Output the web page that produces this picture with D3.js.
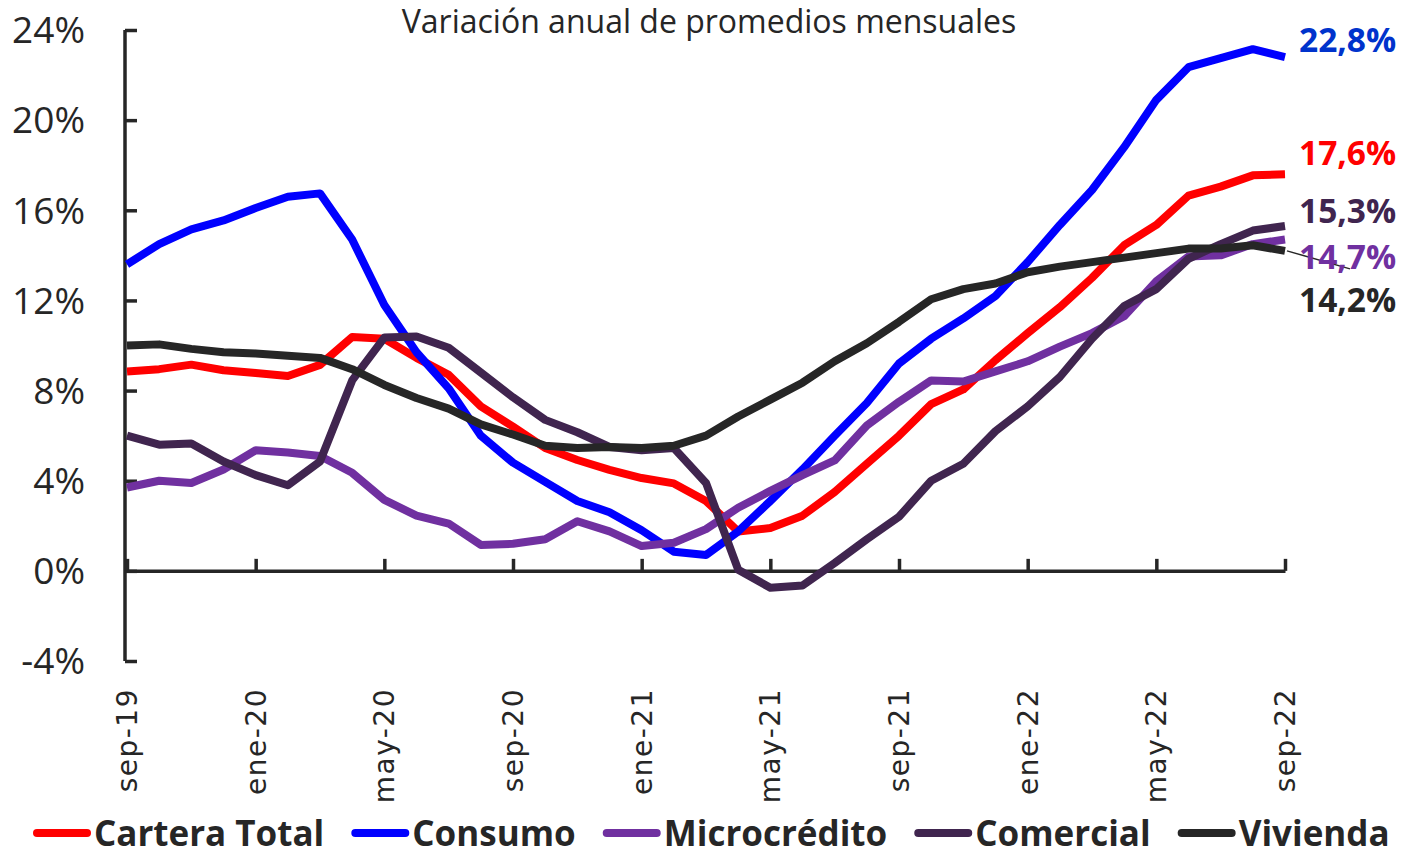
<!DOCTYPE html>
<html>
<head>
<meta charset="utf-8">
<script src="https://cdn.jsdelivr.net/npm/d3@7"></script>
<style>
  body { margin: 0; background: #fff; }
  svg { display: block; }
</style>
</head>
<body>
<svg id="chart" width="1406" height="855"></svg>
<script>
var TITLE = "Variación anual de promedios mensuales";

var monthNames = ["ene", "feb", "mar", "abr", "may", "jun", "jul", "ago", "sep", "oct", "nov", "dic"];
// sep-19 .. sep-22
var months = [];
for (var k = 0; k < 37; k++) {
    var m = (8 + k) % 12;
    var yr = 19 + Math.floor((8 + k) / 12);
    months.push(monthNames[m] + "-" + yr);
}

var cartera = [8.85, 8.95, 9.15, 8.9, 8.78, 8.65, 9.14, 10.38, 10.3, 9.45, 8.7, 7.3, 6.4, 5.45, 4.92, 4.48, 4.12, 3.88, 3.1, 1.75,
               1.9, 2.45, 3.5, 4.75, 6.0, 7.4, 8.05, 9.35, 10.55, 11.7, 13.0, 14.45, 15.35, 16.65, 17.05, 17.55, 17.6];
var consumo = [13.6, 14.5, 15.15, 15.55, 16.1, 16.6, 16.75, 14.7, 11.8, 9.7, 8.1, 6.0, 4.8, 3.95, 3.1, 2.6, 1.8, 0.85, 0.7, 1.75,
               3.1, 4.5, 6.0, 7.45, 9.2, 10.3, 11.2, 12.2, 13.7, 15.35, 16.9, 18.8, 20.9, 22.35, 22.75, 23.15, 22.8];
var microcredito = [3.7, 4.0, 3.9, 4.5, 5.35, 5.25, 5.1, 4.35, 3.15, 2.45, 2.1, 1.15, 1.2, 1.4, 2.2, 1.75, 1.1, 1.25, 1.85, 2.8,
               3.55, 4.25, 4.9, 6.45, 7.5, 8.45, 8.4, 8.85, 9.3, 9.95, 10.55, 11.3, 12.85, 13.95, 14.0, 14.5, 14.7];
var comercial = [6.0, 5.6, 5.65, 4.85, 4.25, 3.8, 4.85, 8.45, 10.35, 10.4, 9.9, 8.8, 7.7, 6.7, 6.15, 5.5, 5.35, 5.45, 3.9, 0.05,
               -0.75, -0.65, 0.35, 1.4, 2.4, 4.0, 4.75, 6.2, 7.3, 8.6, 10.3, 11.75, 12.5, 13.85, 14.5, 15.1, 15.3];
var vivienda = [10.0, 10.05, 9.85, 9.7, 9.65, 9.55, 9.45, 8.95, 8.25, 7.67, 7.2, 6.5, 6.05, 5.55, 5.45, 5.5, 5.45, 5.55, 6.0, 6.85,
               7.6, 8.35, 9.3, 10.1, 11.05, 12.05, 12.5, 12.75, 13.25, 13.5, 13.7, 13.9, 14.1, 14.3, 14.3, 14.45, 14.2];

var seriesNames = ["Cartera Total", "Consumo", "Microcrédito", "Comercial", "Vivienda"];
var seriesValues = [cartera, consumo, microcredito, comercial, vivienda];
var endLabels = ["17,6%", "22,8%", "14,7%", "15,3%", "14,2%"];
var yTicks = [-4, 0, 4, 8, 12, 16, 20, 24];

var COLORS = ["#ff0000", "#0000ff", "#7030a0", "#40254f", "#262626"];
var LABEL_COLORS = ["#ff0000", "#0033cc", "#7030a0", "#40254f", "#262626"];
var LABEL_DY = [-21, -17, 17, -15, 49];   // nudges so end labels don't overlap
var AXIS_COL = "#262626";
var FONT = "'Open Sans', 'Noto Sans', sans-serif";

var svg = d3.select("#chart");

var x = d3.scaleLinear().domain([0, months.length - 1]).range([127, 1285]);
var y = d3.scaleLinear().domain([-4, 24]).range([661, 30]);

// y axis
var yAxis = d3.axisRight(y).tickValues(yTicks).tickSize(12).tickFormat("");
var gy = svg.append("g")
    .attr("transform", "translate(" + 125 + ",0)")
    .call(yAxis);
gy.select(".domain").attr("d", "M0," + y(24) + "V" + y(-4)).attr("stroke", AXIS_COL).attr("stroke-width", 3.5);
gy.selectAll(".tick line").attr("stroke", AXIS_COL).attr("stroke-width", 3.5);

svg.append("g").selectAll("text")
    .data(yTicks)
    .enter()
    .append("text")
    .attr("x", 85)
    .attr("y", function(d) { return y(d); })
    .attr("dy", "0.36em")
    .attr("text-anchor", "end")
    .style("font-family", FONT)
    .style("font-size", "37px")
    .style("fill", AXIS_COL)
    .text(function(d) { return d + "%"; });

// x axis at 0%
var tickIdx = d3.range(0, months.length, 4);
var xAxis = d3.axisTop(x).tickValues(tickIdx).tickSize(12).tickFormat("").tickSizeOuter(0);
var gx = svg.append("g")
    .attr("transform", "translate(0," + y(0) + ")")
    .call(xAxis);
gx.select(".domain").attr("stroke", AXIS_COL).attr("stroke-width", 3.5);
gx.selectAll(".tick line").attr("stroke", AXIS_COL).attr("stroke-width", 3.5);

svg.append("g").selectAll("text")
    .data(tickIdx)
    .enter()
    .append("text")
    .attr("transform", function(d) { return "translate(" + (x(d) + 10) + ",688) rotate(-90)"; })
    .attr("text-anchor", "end")
    .style("font-family", "'DejaVu Sans', sans-serif")
    .style("font-size", "28px")
    .style("letter-spacing", "1.5px")
    .style("fill", AXIS_COL)
    .text(function(d) { return months[d]; });

// title
svg.append("text")
    .attr("x", 709)
    .attr("y", 33)
    .attr("text-anchor", "middle")
    .style("font-family", FONT)
    .style("font-size", "32px")
    .style("fill", AXIS_COL)
    .text(TITLE);

// lines
var line = d3.line()
    .x(function(d, i) { return x(i); })
    .y(function(d) { return y(d); });

svg.append("g").selectAll("path")
    .data(seriesValues)
    .enter()
    .append("path")
    .attr("d", line)
    .attr("fill", "none")
    .attr("stroke", function(d, i) { return COLORS[i]; })
    .attr("stroke-width", 8)
    .attr("stroke-linejoin", "round");

// leader line for Vivienda label
var last = months.length - 1;
svg.append("line")
    .attr("x1", x(last) + 2)
    .attr("y1", y(vivienda[last]))
    .attr("x2", 1350)
    .attr("y2", y(vivienda[last]) + 18)
    .attr("stroke", "#262626")
    .attr("stroke-width", 1.5);

// end labels
svg.append("g").selectAll("text")
    .data(seriesValues)
    .enter()
    .append("text")
    .attr("x", 1299)
    .attr("y", function(d, i) { return y(d[last]) + LABEL_DY[i]; })
    .attr("dy", "0.36em")
    .style("font-family", FONT)
    .style("font-weight", "bold")
    .style("font-size", "33.5px")
    .style("fill", function(d, i) { return LABEL_COLORS[i]; })
    .text(function(d, i) { return endLabels[i]; });

// legend
var legend = svg.append("g");
var lx = 33;
var ly = 833;
for (var i = 0; i < seriesNames.length; i++) {
    legend.append("line")
        .attr("x1", lx + 4).attr("x2", lx + 54)
        .attr("y1", ly).attr("y2", ly)
        .attr("stroke", COLORS[i])
        .attr("stroke-width", 8)
        .attr("stroke-linecap", "round");
    var t = legend.append("text")
        .attr("x", lx + 61)
        .attr("y", ly)
        .attr("dy", "0.36em")
        .style("font-family", FONT)
        .style("font-weight", "bold")
        .style("font-size", "35px")
        .style("fill", AXIS_COL)
        .text(seriesNames[i]);
    lx = lx + 61 + t.node().getComputedTextLength() + 27;
}
</script>
</body>
</html>
